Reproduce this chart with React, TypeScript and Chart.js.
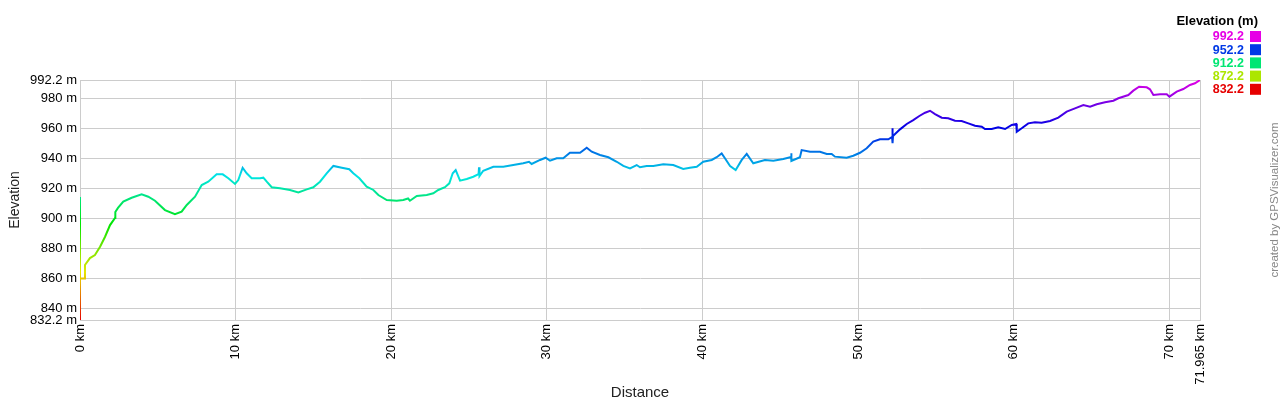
import React, { useEffect, useRef } from "react";
import { Chart, registerables } from "chart.js";

Chart.register(...registerables);

const distanceKm = [
  0, 0, 0, 0.29, 0.32, 0.64, 0.96, 1.29, 1.61, 1.93, 2.25, 2.27, 2.44, 2.78, 3.32,
  3.96, 4.39, 4.82, 5.46, 6.1, 6.53, 6.86, 7.39, 7.82, 8.24, 8.78, 9.17, 9.53, 9.96,
  10.17, 10.45, 10.71, 11.03, 11.57, 11.78, 12.0, 12.32, 12.85, 13.49, 14.03, 14.57,
  14.99, 15.42, 15.85, 16.28, 16.82, 17.3, 17.56, 17.95, 18.42, 18.85, 19.17, 19.71,
  20.35, 20.77, 21.08, 21.2, 21.64, 22.28, 22.7, 23.02, 23.45, 23.73, 23.95, 24.14,
  24.42, 24.85, 25.27, 25.61, 25.64, 25.67, 25.91, 26.56, 27.2, 27.84, 28.48, 28.85,
  29.02, 29.56, 29.92, 30.2, 30.63, 31.05, 31.48, 32.13, 32.56, 32.88, 33.41, 33.95,
  34.49, 34.91, 35.34, 35.77, 35.98, 36.41, 36.84, 37.48, 38.12, 38.76, 39.19, 39.63,
  40.05, 40.59, 40.91, 41.23, 41.44, 41.77, 42.13, 42.52, 42.84, 43.26, 44.01, 44.55,
  45.19, 45.69, 45.7, 45.72, 46.26, 46.37, 46.91, 47.55, 47.98, 48.3, 48.51, 49.26,
  49.69, 50.12, 50.55, 50.97, 51.4, 51.94, 52.18, 52.2, 52.22, 52.24, 52.69, 53.12,
  53.54, 53.93, 54.3, 54.62, 54.94, 55.37, 55.79, 56.22, 56.65, 57.08, 57.51, 57.94,
  58.15, 58.58, 59.0, 59.44, 59.87, 60.16, 60.19, 60.51, 60.93, 61.36, 61.79, 62.33,
  62.86, 63.4, 63.93, 64.47, 64.9, 65.33, 65.86, 66.4, 66.72, 67.36, 67.68, 68.05,
  68.54, 68.75, 68.97, 69.4, 69.83, 70.0, 70.47, 70.89, 71.32, 71.64, 71.965,
];

const elevationM = [
  832.2, 914.2, 859.9, 859.8, 868.9, 873.5, 875.5, 881.0, 887.7, 895.5, 900.2, 904.2,
  906.9, 911.1, 913.7, 916.0, 914.4, 911.7, 905.5, 902.7, 904.4, 908.9, 914.4, 922.2,
  924.4, 929.3, 929.3, 926.7, 922.9, 925.5, 933.7, 930.0, 926.7, 926.7, 927.1, 924.4,
  920.7, 920.0, 918.9, 917.3, 919.3, 920.7, 924.4, 930.0, 934.9, 933.7, 932.7, 930.0,
  926.7, 921.1, 918.9, 915.5, 912.2, 911.7, 912.2, 913.2, 911.7, 914.9, 915.5, 916.7,
  918.9, 920.7, 923.3, 930.0, 932.2, 925.1, 926.2, 927.7, 929.5, 934.0, 928.2, 931.7,
  934.4, 934.4, 935.5, 936.7, 937.7, 936.2, 938.9, 940.4, 938.4, 940.0, 940.0, 943.7,
  943.7, 947.1, 944.4, 942.2, 940.7, 937.7, 934.9, 933.3, 935.5, 934.0, 934.9, 934.9,
  936.0, 935.5, 932.9, 933.7, 934.4, 937.7, 938.9, 940.7, 943.3, 940.0, 934.9, 932.2,
  938.9, 942.9, 936.7, 938.9, 938.4, 939.5, 940.9, 943.3, 938.2, 940.7, 945.5, 944.4,
  944.4, 942.9, 942.9, 941.1, 940.4, 941.7, 943.7, 946.7, 951.1, 952.7, 952.7, 954.2,
  960.0, 950.0, 954.9, 959.3, 962.9, 965.5, 968.2, 970.4, 971.7, 969.5, 967.1, 966.7,
  965.1, 964.9, 963.3, 961.7, 961.1, 959.5, 959.5, 960.7, 959.5, 962.2, 962.9, 957.7,
  960.0, 963.3, 964.0, 963.7, 964.9, 967.1, 971.1, 973.3, 975.5, 974.4, 976.0, 977.3,
  978.4, 980.0, 982.2, 985.1, 987.7, 987.3, 986.0, 982.2, 982.7, 982.7, 981.1, 984.4,
  986.2, 988.9, 990.0, 992.2,
];

const xTickValues = [0, 10, 20, 30, 40, 50, 60, 70, 71.965];
const yTickValues = [832.2, 840, 860, 880, 900, 920, 940, 960, 980, 992.2];
const legendValues = [992.2, 952.2, 912.2, 872.2, 832.2];
const legendTitle = "Elevation (m)";
const xTitle = "Distance";
const yTitle = "Elevation";
const creditText = "created by GPSVisualizer.com";

const ELEV_MIN = Math.min(...elevationM);
const ELEV_MAX = Math.max(...elevationM);
const FONT = '"Liberation Sans", Arial, sans-serif';

function hueFor(v: number) {
  return ((v - ELEV_MIN) / (ELEV_MAX - ELEV_MIN)) * 300;
}
function colorFor(v: number) {
  return `hsl(${hueFor(v)}, 100%, 45%)`;
}

const overlayPlugin = {
  id: "overlay",
  afterDraw(chart: any) {
    const c = chart.ctx as CanvasRenderingContext2D;
    c.save();
    c.textAlign = "right";
    c.textBaseline = "middle";
    c.fillStyle = "#000";
    c.font = `bold 13px ${FONT}`;
    c.fillText(legendTitle, 1258, 21);
    c.font = `bold 12.5px ${FONT}`;
    legendValues.forEach((v, i) => {
      const y = 36.5 + i * 13.2;
      c.fillStyle = colorFor(v);
      c.fillText(v.toFixed(1), 1244, y + 0.5);
      c.fillRect(1250, y - 5.5, 11, 11);
    });
    c.translate(1274.5, 200);
    c.rotate(-Math.PI / 2);
    c.textAlign = "center";
    c.fillStyle = "#888";
    c.font = `11.5px ${FONT}`;
    c.fillText(creditText, 0, 0);
    c.restore();
  },
};

export default function App() {
  const ref = useRef<HTMLCanvasElement | null>(null);
  useEffect(() => {
    document.body.style.margin = "0";
    if (!ref.current) return;
    const points = distanceKm.map((d, i) => ({ x: d, y: elevationM[i] }));
    const chart = new Chart(ref.current, {
      type: "line",
      data: {
        datasets: [
          {
            data: points,
            borderWidth: 2,
            pointRadius: 0,
            tension: 0,
            borderColor: (ctx: any) => {
              const ch = ctx.chart;
              if (!ch.chartArea || !ch.scales.y) return colorFor(912.2);
              const y0 = ch.scales.y.getPixelForValue(ELEV_MIN);
              const y1 = ch.scales.y.getPixelForValue(ELEV_MAX);
              const g = ch.ctx.createLinearGradient(0, y0, 0, y1);
              for (let i = 0; i <= 10; i++) {
                g.addColorStop(i / 10, `hsl(${i * 30}, 100%, 45%)`);
              }
              return g;
            },
          },
        ],
      },
      options: {
        animation: false,
        responsive: false,
        devicePixelRatio: 1,
        layout: { padding: { top: 80, right: 80, left: 0, bottom: 0 } },
        plugins: { legend: { display: false }, tooltip: { enabled: false } },
        scales: {
          x: {
            type: "linear",
            min: 0,
            max: distanceKm[distanceKm.length - 1],
            afterBuildTicks: (s: any) => {
              s.ticks = xTickValues.map((v) => ({ value: v }));
            },
            afterFit: (s: any) => {
              s.height = 80;
              s.paddingLeft = 0;
              s.paddingRight = 0;
            },
            grid: { color: "#cccccc", drawTicks: false, lineWidth: 1 },
            border: { color: "#cccccc" },
            ticks: {
              autoSkip: false,
              minRotation: 90,
              maxRotation: 90,
              padding: 4,
              color: "#000",
              font: { size: 13, family: FONT },
              callback: (v: any) => `${v} km`,
            },
            title: {
              display: true,
              text: xTitle,
              color: "#222",
              font: { size: 15, family: FONT, lineHeight: 1 },
              padding: { top: 0, bottom: 0 },
            },
          },
          y: {
            type: "linear",
            min: ELEV_MIN,
            max: ELEV_MAX,
            afterBuildTicks: (s: any) => {
              s.ticks = yTickValues.map((v) => ({ value: v }));
            },
            afterFit: (s: any) => {
              s.width = 80;
              s.paddingTop = 0;
              s.paddingBottom = 0;
            },
            grid: { color: "#cccccc", drawTicks: false, lineWidth: 1 },
            border: { color: "#cccccc" },
            ticks: {
              padding: 3,
              color: "#000",
              font: { size: 13, family: FONT },
              callback: (v: any) => `${v} m`,
            },
            title: {
              display: true,
              text: yTitle,
              color: "#222",
              font: { size: 14, family: FONT },
              padding: { top: 7, bottom: 0 },
            },
          },
        },
      },
      plugins: [overlayPlugin],
    } as any);
    return () => chart.destroy();
  }, []);
  return (
    <div style={{ width: 1280, height: 400 }}>
      <canvas ref={ref} width={1280} height={400} />
    </div>
  );
}
